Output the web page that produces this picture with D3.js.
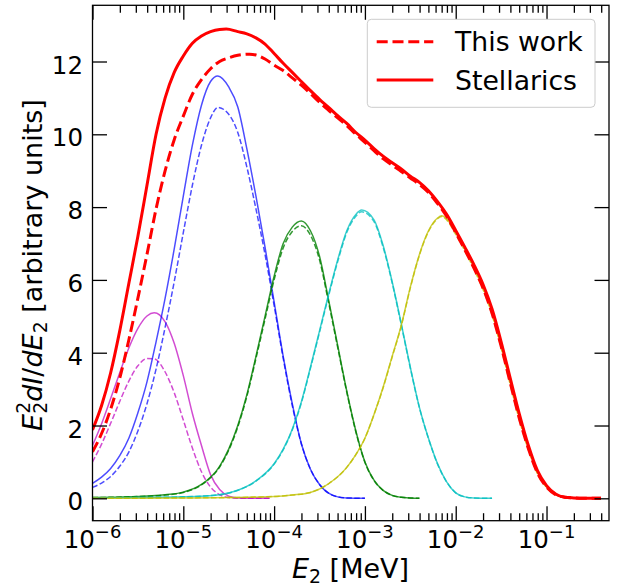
<!DOCTYPE html>
<html>
<head>
<meta charset="utf-8">
<script src="https://cdn.jsdelivr.net/npm/d3@7"></script>
<style>
  body { margin: 0; background: #fff; }
  svg { display: block; font-family: "DejaVu Sans", sans-serif; }
</style>
</head>
<body>
<div class="chart"></div>
<script>
// values, x given as log10(E2 / MeV)
var magentaLogE = [-6.0,-5.9,-5.8,-5.7,-5.6,-5.5,-5.4,-5.32,-5.2,-5.1,-5.0,-4.9,-4.8,-4.7,-4.6,-4.5,-4.4,-4.3,-4.05];
var magentaSolid = [1.45,2.05,2.74,3.45,4.13,4.67,5.01,5.10,4.85,4.26,3.37,2.33,1.45,0.65,0.24,0.06,0.01,0.0,0.0];
var magentaDashed = [1.00,1.49,2.06,2.66,3.22,3.64,3.84,3.83,3.47,2.90,2.15,1.38,0.73,0.31,0.10,0.02,0.0,0.0,0.0];

var blueLogE = [-6.0,-5.9,-5.8,-5.7,-5.6,-5.5,-5.4,-5.3,-5.2,-5.1,-5.0,-4.9,-4.8,-4.7,-4.62,-4.5,-4.4,-4.3,-4.2,-4.1,-4.0,-3.9,-3.8,-3.7,-3.6,-3.5,-3.4,-3.3,-3.2,-3.0];
var blueSolid = [0.41,0.58,0.82,1.17,1.65,2.35,3.2,4.3,5.5,6.85,8.3,9.7,10.8,11.45,11.6,11.3,10.75,9.6,8.3,6.9,5.4,3.9,2.6,1.5,0.8,0.38,0.14,0.04,0.01,0.0];
var blueDashed = [0.30,0.42,0.60,0.88,1.27,1.85,2.6,3.55,4.7,5.95,7.3,8.6,9.7,10.45,10.74,10.55,10.05,9.1,7.95,6.7,5.3,3.85,2.55,1.5,0.8,0.38,0.14,0.04,0.01,0.0];

var greenLogE = [-6.0,-5.6,-5.2,-5.0,-4.8,-4.6,-4.5,-4.4,-4.3,-4.2,-4.1,-4.0,-3.9,-3.8,-3.7,-3.6,-3.5,-3.4,-3.3,-3.2,-3.1,-3.0,-2.9,-2.8,-2.7,-2.6,-2.4];
var greenSolid = [0.02,0.04,0.10,0.17,0.38,0.88,1.35,2.0,2.85,3.9,5.0,6.1,7.0,7.45,7.62,7.35,6.65,5.45,4.2,2.95,1.85,1.0,0.50,0.22,0.08,0.03,0.0];
var greenDashed = [0.02,0.04,0.09,0.16,0.37,0.86,1.32,1.96,2.8,3.84,4.92,6.0,6.88,7.33,7.49,7.23,6.55,5.38,4.15,2.92,1.83,0.99,0.49,0.22,0.08,0.03,0.0];

var cyanLogE = [-6.0,-5.5,-5.0,-4.6,-4.4,-4.2,-4.0,-3.9,-3.8,-3.7,-3.6,-3.5,-3.4,-3.3,-3.2,-3.1,-3.035,-2.9,-2.8,-2.7,-2.6,-2.5,-2.4,-2.3,-2.2,-2.1,-2.0,-1.9,-1.8,-1.6];
var cyanSolid = [0.01,0.02,0.04,0.10,0.22,0.48,0.95,1.35,1.9,2.65,3.6,4.6,5.6,6.55,7.35,7.8,7.92,7.65,6.95,5.95,4.8,3.6,2.5,1.65,0.95,0.45,0.15,0.04,0.01,0.0];
var cyanDashed = [0.01,0.02,0.04,0.10,0.22,0.47,0.94,1.33,1.88,2.62,3.57,4.56,5.56,6.5,7.3,7.75,7.87,7.6,6.9,5.92,4.77,3.58,2.49,1.64,0.94,0.45,0.15,0.04,0.01,0.0];

var yellowLogE = [-6.0,-5.0,-4.5,-4.0,-3.8,-3.6,-3.4,-3.2,-3.1,-3.0,-2.9,-2.8,-2.7,-2.6,-2.5,-2.4,-2.3,-2.2,-2.154,-2.1,-2.0,-1.9,-1.8,-1.7,-1.6,-1.5,-1.4,-1.3,-1.2,-1.1,-1.0,-0.9,-0.8,-0.7,-0.6,-0.4];
var yellowSolid = [0.0,0.01,0.02,0.05,0.09,0.16,0.40,0.85,1.2,1.65,2.3,3.05,3.9,4.75,5.8,6.7,7.35,7.7,7.76,7.68,7.3,6.85,6.35,5.8,5.1,4.2,3.2,2.22,1.38,0.71,0.31,0.1,0.03,0.01,0.0,0.0];
var yellowDashed = [0.0,0.01,0.02,0.05,0.09,0.16,0.40,0.85,1.2,1.65,2.3,3.03,3.88,4.73,5.78,6.68,7.33,7.68,7.74,7.65,7.25,6.8,6.3,5.74,5.04,4.13,3.13,2.16,1.33,0.68,0.3,0.1,0.03,0.01,0.0,0.0];

// totals
var stellLogE = [-6.0,-5.9,-5.8,-5.7,-5.6,-5.5,-5.4,-5.3,-5.2,-5.1,-5.0,-4.9,-4.8,-4.7,-4.6,-4.527,-4.4,-4.3,-4.2,-4.1,-4.0,-3.9,-3.8,-3.7,-3.6,-3.5,-3.4,-3.3,-3.2,-3.1,-3.0,-2.9,-2.8,-2.7,-2.6,-2.5,-2.4,-2.3,-2.2,-2.1,-2.0,-1.9,-1.8,-1.7,-1.6,-1.5,-1.4,-1.3,-1.2,-1.1,-1.0,-0.9,-0.8,-0.7,-0.6,-0.4];
var stellarics = [1.88,2.55,3.45,4.6,5.9,7.2,8.6,10.0,11.0,11.7,12.15,12.5,12.7,12.82,12.88,12.89,12.82,12.76,12.65,12.48,12.22,11.95,11.7,11.45,11.2,10.96,10.74,10.51,10.3,10.05,9.84,9.61,9.4,9.22,9.05,8.85,8.68,8.45,8.15,7.8,7.36,6.9,6.42,5.88,5.2,4.3,3.3,2.32,1.45,0.76,0.35,0.12,0.03,0.01,0.0,0.0];

var thisLogE = [-6.0,-5.9,-5.8,-5.7,-5.6,-5.5,-5.4,-5.3,-5.2,-5.1,-5.0,-4.9,-4.8,-4.7,-4.6,-4.5,-4.4,-4.27,-4.2,-4.1,-4.0,-3.9,-3.8,-3.7,-3.6,-3.5,-3.4,-3.3,-3.2,-3.1,-3.0,-2.9,-2.8,-2.7,-2.6,-2.5,-2.4,-2.3,-2.2,-2.1,-2.0,-1.9,-1.8,-1.7,-1.6,-1.5,-1.4,-1.3,-1.2,-1.1,-1.0,-0.9,-0.8,-0.7,-0.6,-0.4];
var thisWork = [1.28,1.78,2.45,3.3,4.35,5.5,6.7,7.95,9.0,9.85,10.5,11.1,11.5,11.8,12.0,12.1,12.17,12.2,12.18,12.07,11.9,11.75,11.55,11.35,11.12,10.88,10.66,10.45,10.24,10.0,9.78,9.55,9.33,9.15,8.98,8.8,8.62,8.4,8.1,7.75,7.3,6.83,6.33,5.78,5.08,4.18,3.18,2.2,1.37,0.7,0.31,0.1,0.03,0.01,0.0,0.0];

var xMajor = [1e-6,1e-5,1e-4,1e-3,1e-2,1e-1];
var xExponents = ["\u22126","\u22125","\u22124","\u22123","\u22122","\u22121"];
var yTicks = [0,2,4,6,8,10,12];
var legendLabels = ["This work","Stellarics"];

var width = 622, height = 586;
var box = {left:92.5, right:609, top:5.3, bottom:520.7};

var x = d3.scaleLog().domain([1e-6, 0.4875]).range([box.left, box.right]);
var y = d3.scaleLinear().domain([-0.615, 13.544]).range([box.bottom, box.top]);

var svg = d3.select(".chart").append("svg")
  .attr("width", width)
  .attr("height", height);

svg.append("clipPath").attr("id","clip")
  .append("rect")
  .attr("x", box.left).attr("y", box.top)
  .attr("width", box.right-box.left).attr("height", box.bottom-box.top);

function pts(logE, vals){
  return logE.map(function(u,i){ return [Math.pow(10,u), vals[i]]; });
}

var line = d3.line()
  .x(function(d){ return x(d[0]); })
  .y(function(d){ return y(d[1]); })
  .curve(d3.curveMonotoneX);

var series = [
  {d:pts(magentaLogE,magentaSolid), c:"#bf00bf", w:1.5, dash:null, o:0.7},
  {d:pts(magentaLogE,magentaDashed), c:"#bf00bf", w:1.5, dash:"5.5,2.4", o:0.7},
  {d:pts(blueLogE,blueSolid), c:"#0000ff", w:1.5, dash:null, o:0.7},
  {d:pts(blueLogE,blueDashed), c:"#0000ff", w:1.5, dash:"5.5,2.4", o:0.7},
  {d:pts(greenLogE,greenSolid), c:"#008000", w:1.5, dash:null, o:0.8},
  {d:pts(greenLogE,greenDashed), c:"#008000", w:1.5, dash:"5.5,2.4", o:0.8},
  {d:pts(cyanLogE,cyanSolid), c:"#00bfbf", w:1.5, dash:null, o:0.75},
  {d:pts(cyanLogE,cyanDashed), c:"#00bfbf", w:1.5, dash:"5.5,2.4", o:0.75},
  {d:pts(yellowLogE,yellowSolid), c:"#bfbf00", w:1.5, dash:null, o:0.75},
  {d:pts(yellowLogE,yellowDashed), c:"#bfbf00", w:1.5, dash:"5.5,2.4", o:0.75},
  {d:pts(thisLogE,thisWork), c:"#ff0000", w:3, dash:"11,4.8", o:1},
  {d:pts(stellLogE,stellarics), c:"#ff0000", w:3, dash:null, o:1}
];

var plot = svg.append("g").attr("clip-path","url(#clip)");
plot.selectAll("path.curve")
  .data(series)
  .enter().append("path")
    .attr("class","curve")
    .attr("fill","none")
    .attr("stroke", function(d){ return d.c; })
    .attr("stroke-opacity", function(d){ return d.o; })
    .attr("stroke-width", function(d){ return d.w; })
    .attr("stroke-dasharray", function(d){ return d.dash; })
    .attr("d", function(d){ return line(d.d); });

// minor ticks for the log axis
var xMinor = [];
xMajor.forEach(function(m){
  for (var k=2;k<10;k++){ if (m*k <= x.domain()[1]) xMinor.push(m*k); }
});

function styleAxis(g){
  g.select(".domain").remove();
  g.selectAll("line").attr("stroke","#000").attr("stroke-width",1.3);
}

svg.append("g").attr("transform","translate(0,"+box.bottom+")")
  .call(d3.axisBottom(x).tickValues(xMajor).tickSize(-14.5).tickSizeOuter(0).tickFormat(""))
  .call(styleAxis);
svg.append("g").attr("transform","translate(0,"+box.bottom+")")
  .call(d3.axisBottom(x).tickValues(xMinor).tickSize(-7.5).tickSizeOuter(0).tickFormat(""))
  .call(styleAxis);
svg.append("g").attr("transform","translate(0,"+box.top+")")
  .call(d3.axisTop(x).tickValues(xMajor).tickSize(-14.5).tickSizeOuter(0).tickFormat(""))
  .call(styleAxis);
svg.append("g").attr("transform","translate(0,"+box.top+")")
  .call(d3.axisTop(x).tickValues(xMinor).tickSize(-7.5).tickSizeOuter(0).tickFormat(""))
  .call(styleAxis);
svg.append("g").attr("transform","translate("+box.right+",0)")
  .call(d3.axisRight(y).tickValues(yTicks).tickSize(-14.5).tickSizeOuter(0).tickFormat(""))
  .call(styleAxis);

var yAxis = svg.append("g").attr("transform","translate("+box.left+",0)")
  .call(d3.axisLeft(y).tickValues(yTicks).tickSize(-14.5).tickSizeOuter(0).tickPadding(9.5))
  .call(styleAxis);
yAxis.selectAll("text")
  .attr("dy","0.47em")
  .attr("fill","#000")
  .style("font-size","24.5px")
  .style("font-family","DejaVu Sans");

// x tick labels 10^n
var xl = svg.append("g");
xMajor.forEach(function(m,i){
  var t = xl.append("text")
    .attr("x", x(m)).attr("y", 547.5)
    .attr("text-anchor","middle")
    .style("font-size","24.5px");
  t.append("tspan").text("10");
  t.append("tspan").attr("dy",-10).style("font-size","18px").text(xExponents[i]);
});

// frame
svg.append("rect")
  .attr("x", box.left).attr("y", box.top)
  .attr("width", box.right-box.left).attr("height", box.bottom-box.top)
  .attr("fill","none").attr("stroke","#000").attr("stroke-width",1.3);

// math-like labels built from pieces
function mathLabel(g, pieces, fs){
  var inner = g.append("g");
  var cx = 0, lastX = 0;
  pieces.forEach(function(p){
    var sx = p.stack ? lastX : cx;
    var el = inner.append("text")
      .attr("x", sx).attr("y", p.dy || 0)
      .style("font-size", (fs*(p.s||1))+"px")
      .style("font-style", p.it ? "italic" : "normal")
      .style("white-space","pre")
      .text(p.t);
    var w = el.node().getComputedTextLength();
    if (p.stack) { cx = Math.max(cx, sx+w); }
    else { lastX = sx; cx = sx + w; }
  });
  inner.attr("transform","translate("+(-cx/2)+",0)");
}

var xLab = svg.append("g").attr("transform","translate(350.5,578)");
mathLabel(xLab, [
  {t:"E", it:true},
  {t:"2", s:0.7, dy:5},
  {t:"\u00a0[MeV]"}
], 27);

var yLab = svg.append("g").attr("transform","translate(41.5,265) rotate(-90)");
mathLabel(yLab, [
  {t:"E", it:true},
  {t:"2", s:0.7, dy:5},
  {t:"2", s:0.7, dy:-11.5, stack:true},
  {t:"dI", it:true},
  {t:"/"},
  {t:"dE", it:true},
  {t:"2", s:0.7, dy:5},
  {t:"\u00a0[arbitrary units]"}
], 27);

// legend
var lg = svg.append("g");
lg.append("rect")
  .attr("x",367.3).attr("y",19.3).attr("width",227.7).attr("height",88)
  .attr("rx",4).attr("fill","#fff").attr("fill-opacity",0.8)
  .attr("stroke","#cccccc").attr("stroke-width",1);
[series[10], series[11]].forEach(function(s,i){
  var ly = 41.7 + i*38.3;
  lg.append("line")
    .attr("x1",376.7).attr("x2",433.3).attr("y1",ly).attr("y2",ly)
    .attr("stroke",s.c).attr("stroke-width",s.w)
    .attr("stroke-dasharray",s.dash);
  lg.append("text")
    .attr("x",455).attr("y",ly+9.5)
    .style("font-size","26.7px")
    .text(legendLabels[i]);
});
</script>
</body>
</html>
